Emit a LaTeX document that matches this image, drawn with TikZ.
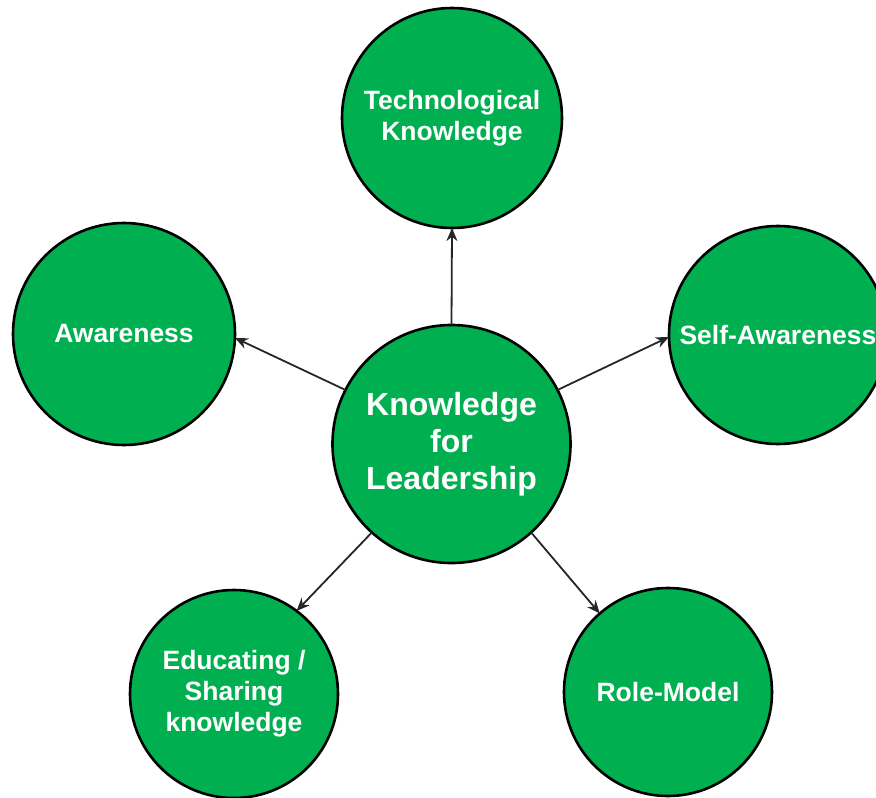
\documentclass[tikz,border=0pt]{standalone}
\usepackage{fontspec}
\setmainfont{Liberation Sans}
\usetikzlibrary{arrows.meta}
\definecolor{leafgreen}{HTML}{00B050}
\begin{document}
\begin{tikzpicture}[x=1pt,y=-1pt,
  bubble/.style={circle, draw=black, line width=2.6pt, fill=leafgreen, text=white,
    font=\bfseries\fontsize{26.5}{31}\selectfont, align=center, inner sep=0pt, outer sep=0pt},
  link/.style={draw=black!85, line width=1.8pt, -{Stealth[length=13pt,width=11pt]}}]
\useasboundingbox (0,0) rectangle (876,798);
\clip (0,0) rectangle (876,798);
\node[bubble, minimum size=238pt, font=\bfseries\fontsize{32}{37}\selectfont] (c) at (451.5,444) {Knowledge\\for\\Leadership};
\node[bubble, minimum size=220pt] (tech) at (452,118) {Technological\\Knowledge};
\node[bubble, minimum size=222pt] (aw) at (124,334) {Awareness};
\node[bubble, minimum size=218pt] (self) at (778,335) {Self-Awareness};
\node[bubble, minimum size=208pt] (edu) at (234,694) {Educating /\\Sharing\\knowledge};
\node[bubble, minimum size=208pt] (role) at (668,692) {Role-Model};
\draw[link] (c.north) -- (tech.south);
\draw[link] (c.153.7) -- (aw.-2);
\draw[link] (c.27.3) -- (self.181);
\draw[link] (c.228.9) -- (edu.53);
\draw[link] (c.312.5) -- (role.131);
\end{tikzpicture}
\end{document}
